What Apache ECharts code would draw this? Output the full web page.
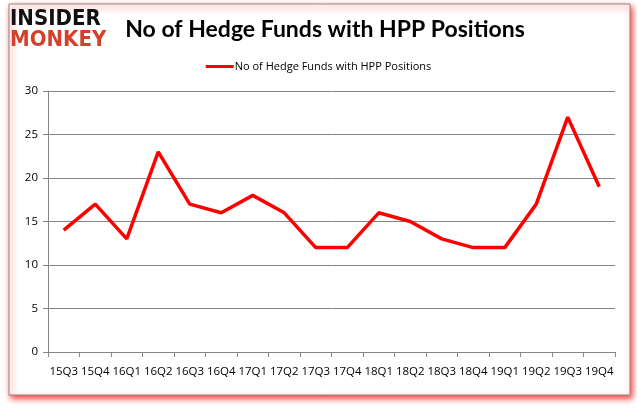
<!DOCTYPE html>
<html><head><meta charset="utf-8">
<script src="https://cdn.jsdelivr.net/npm/echarts@6/dist/echarts.min.js"></script>
<style>html,body{margin:0;padding:0;background:#fff}#c{width:637px;height:408px}</style>
</head><body><div id="c"></div>
<script>
var categories = ['15Q3','15Q4','16Q1','16Q2','16Q3','16Q4','17Q1','17Q2','17Q3','17Q4','18Q1','18Q2','18Q3','18Q4','19Q1','19Q2','19Q3','19Q4'];
var hedgeFunds = [14,17,13,23,17,16,18,16,12,12,16,15,13,12,12,17,27,19];
var seriesName = 'No of Hedge Funds with HPP Positions';
var titleText = 'No of Hedge Funds with HPP Positions';

var chart = echarts.init(document.getElementById('c'));
chart.setOption({
  animation: false,
  graphic: [
    {type:'rect', shape:{x:9,y:4,width:621,height:391}, style:{fill:'#fff', stroke:'#8a8a8a', lineWidth:1, shadowColor:'rgba(255,0,0,0.8)', shadowBlur:6, shadowOffsetX:2, shadowOffsetY:3}, z:-10},
    {type:'text', left:10, top:8, style:{text:'INSIDER', font:'900 22px "DejaVu Sans Condensed", "DejaVu Sans"', fill:'#111'}},
    {type:'text', left:10, top:29, style:{text:'MONKEY', font:'900 22px "DejaVu Sans Condensed", "DejaVu Sans"', fill:'#d4402a'}}
  ],
  title: {text: titleText, left: 320, top: 13, textAlign:'center',
    textStyle:{fontFamily:'Lato, "Open Sans", sans-serif', fontWeight:'bold', fontSize:23, color:'#000'}},
  legend: {top: 56, left: 'center', itemWidth: 28, itemHeight: 3, itemGap: 5,
    icon: 'rect',
    textStyle:{fontFamily:'"Open Sans", "Liberation Sans", sans-serif', fontSize:11, color:'#000', padding:[0,0,0,-4]},
    data:[seriesName]},
  grid: {left: 48, right: 22, top: 91, bottom: 56, containLabel:false},
  xAxis: {type:'category', data: categories, boundaryGap:true,
    axisLine:{lineStyle:{color:'#868686'}},
    axisTick:{show:true, alignWithLabel:false, length:5, lineStyle:{color:'#868686'}},
    axisLabel:{interval:0, color:'#000', fontSize:11.5, margin:14, fontFamily:'"Open Sans", "Liberation Sans", sans-serif'}},
  yAxis: {type:'value', min:0, max:30, interval:5,
    axisLine:{show:true, lineStyle:{color:'#868686'}},
    axisTick:{show:true, length:5, lineStyle:{color:'#868686'}},
    splitLine:{lineStyle:{color:'#868686'}},
    axisLabel:{color:'#000', fontSize:11.5, margin:10, fontFamily:'"Open Sans", "Liberation Sans", sans-serif'}},
  series: [{name: seriesName, type:'line', data: hedgeFunds, symbol:'none',
    lineStyle:{color:'#ff0000', width:3.5}, itemStyle:{color:'#ff0000'}}]
});
</script></body></html>
